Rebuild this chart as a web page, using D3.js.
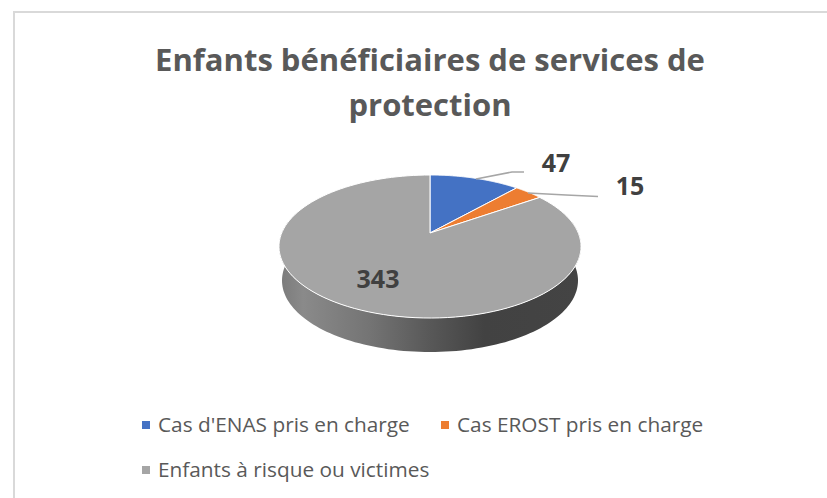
<!DOCTYPE html>
<html><head><meta charset="utf-8">
<script src="https://cdn.jsdelivr.net/npm/d3@7"></script>
<style>html,body{margin:0;background:#fff}svg{display:block}text{font-family:"Open Sans",sans-serif}</style>
</head><body><div id="c"></div>
<script>
const categories = ["Cas d'ENAS pris en charge","Cas EROST pris en charge","Enfants à risque ou victimes"];
const values = [47,15,343];
const colors = ["#4472c4","#ed7d31","#a5a5a5"];
const titleLines = ["Enfants bénéficiaires de services de","protection"];

const W=827,H=498;
const svg=d3.select("#c").append("svg").attr("width",W).attr("height",H);

// frame
svg.append("path").attr("d",d3.line()([[14,498],[14,12],[827,12]])).attr("fill","none").attr("stroke","#d9d9d9").attr("stroke-width",2);

// title
svg.selectAll(".t").data(titleLines).join("text").attr("class","t")
 .attr("x",430).attr("y",(d,i)=>71+i*45).attr("text-anchor","middle")
 .attr("font-size",31).attr("font-weight",700).attr("fill","#595959").text(d=>d);

// perspective projection of the pie disc
const cx=430,cy=233,k=-0.189,a=68.95,b=148.3,depth=34;
const proj=(ang,dy=0,sx=1)=>{const u=Math.sin(ang),v=-Math.cos(ang),w=1+k*v;return [cx+sx*b*u/w,cy+a*v/w+dy];};
const line=d3.line();
const arcPts=(a0,a1,dy=0,sx=1)=>d3.range(0,121).map(i=>proj(a0+(a1-a0)*i/120,dy,sx));

const arcs=d3.pie().sort(null)(values);

// side wall
const defs=svg.append("defs");
const grad=defs.append("linearGradient").attr("id","side").attr("gradientUnits","userSpaceOnUse").attr("x1",279).attr("x2",581).attr("y1",0).attr("y2",0);
[[0,"#7a7a7a"],[0.08,"#8a8a8a"],[0.3,"#747474"],[0.5,"#585858"],[0.68,"#424242"],[1,"#444444"]].forEach(s=>grad.append("stop").attr("offset",s[0]).attr("stop-color",s[1]));
const A0=Math.PI*0.5,A1=Math.PI*1.5;
const wallTop=arcPts(A0-0.2,A1+0.2), wallBot=arcPts(A0-0.2,A1+0.2,depth,0.98).reverse();
svg.append("path").attr("d",line(wallTop.concat(wallBot))+"Z").attr("fill","url(#side)");

// slices
svg.selectAll(".s").data(arcs).join("path").attr("class","s")
 .attr("d",d=>line([[cx,cy]].concat(arcPts(d.startAngle,d.endAngle)))+"Z")
 .attr("fill",(d,i)=>colors[i]).attr("stroke","#fff").attr("stroke-width",1).attr("stroke-linejoin","round");

// leader lines
const leaders=[[[476,179],[512,172],[524,172]],[[528,193],[566,195],[598,196.5]]];
svg.selectAll(".l").data(leaders).join("path").attr("class","l").attr("d",d=>line(d)).attr("fill","none").attr("stroke","#a6a6a6").attr("stroke-width",1.5);

// value labels
const labelPos=[[556,172],[630,195],[378,288]];
svg.selectAll(".v").data(values).join("text").attr("class","v")
 .attr("x",(d,i)=>labelPos[i][0]).attr("y",(d,i)=>labelPos[i][1]).attr("text-anchor","middle")
 .attr("font-size",25).attr("font-weight",700).attr("fill","#404040").text(d=>d);

// legend
const legendPos=[[142,425],[441,425],[142,470]];
const lg=svg.selectAll(".g").data(categories).join("g").attr("class","g").attr("transform",(d,i)=>`translate(${legendPos[i]})`);
lg.append("rect").attr("x",0).attr("y",-4).attr("width",8).attr("height",8).attr("fill",(d,i)=>colors[i]);
lg.append("text").attr("x",16).attr("y",7).attr("font-size",20.8).attr("fill","#595959").text(d=>d);
</script></body></html>
